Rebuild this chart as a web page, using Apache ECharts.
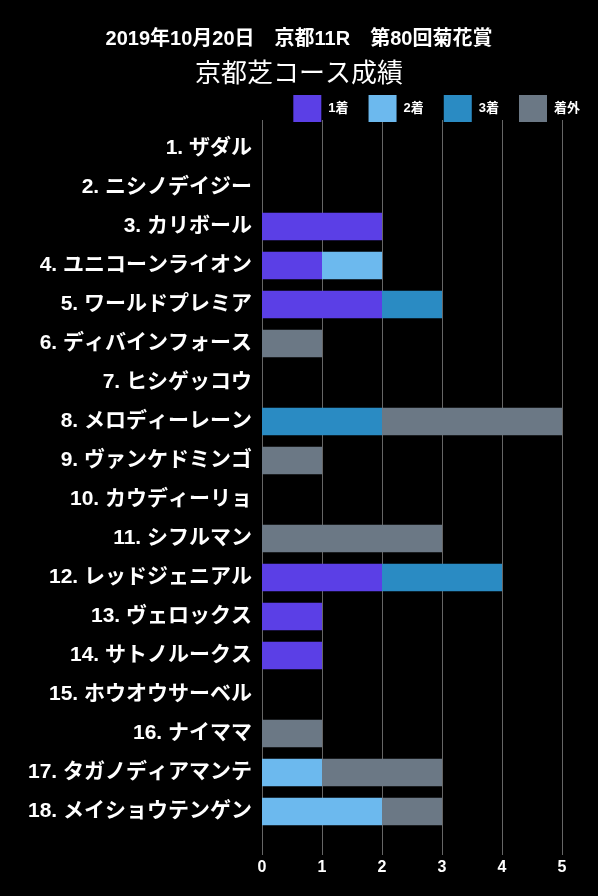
<!DOCTYPE html>
<html><head><meta charset="utf-8">
<script src="https://cdn.jsdelivr.net/npm/echarts@6/dist/echarts.min.js"></script>
<style>html,body{margin:0;padding:0;background:#000;}#c{width:598px;height:896px;}</style>
</head><body><div id="c"></div>
<script>
const horses = ['1. ザダル','2. ニシノデイジー','3. カリボール','4. ユニコーンライオン','5. ワールドプレミア','6. ディバインフォース','7. ヒシゲッコウ','8. メロディーレーン','9. ヴァンケドミンゴ','10. カウディーリョ','11. シフルマン','12. レッドジェニアル','13. ヴェロックス','14. サトノルークス','15. ホウオウサーベル','16. ナイママ','17. タガノディアマンテ','18. メイショウテンゲン'];
const first  = [0,0,2,1,2,0,0,0,0,0,0,2,1,1,0,0,0,0];
const second = [0,0,0,1,0,0,0,0,0,0,0,0,0,0,0,0,1,2];
const third  = [0,0,0,0,1,0,0,2,0,0,0,2,0,0,0,0,0,0];
const outside= [0,0,0,0,0,1,0,3,1,0,3,0,0,0,0,1,2,1];
const seriesNames = ['1着','2着','3着','着外'];
const colors = ['#5b3fe6','#6cb9ee','#2a8bc3','#6b7885'];
const xTicks = [0,1,2,3,4,5];

const font = '"Liberation Sans","Noto Sans CJK JP",sans-serif';
const chart = echarts.init(document.getElementById('c'));
const grid = {left:262, top:129, width:300, height:702};
chart.setOption({
  backgroundColor:'#000',
  animation:false,
  textStyle:{fontFamily:font},
  title:[
    {text:'2019年10月20日　京都11R　第80回菊花賞', left:'center', top:24, textStyle:{color:'#fff', fontSize:20, fontWeight:'bold', fontFamily:font}},
    {text:'京都芝コース成績', left:'center', top:57, textStyle:{color:'#fff', fontSize:26, fontWeight:'normal', fontFamily:font}}
  ],
  legend:{
    data:seriesNames, right:13, top:90, itemWidth:28, itemHeight:27, itemGap:20,
    textStyle:{color:'#fff', fontSize:13, fontWeight:'bold', fontFamily:font, padding:[0,0,0,2]},
    icon:'rect'
  },
  grid:grid,
  xAxis:[
    {type:'value', min:xTicks[0], max:xTicks[xTicks.length-1], interval:1, position:'bottom',
     axisLine:{show:false},
     axisTick:{show:true, length:24, lineStyle:{color:'#666'}},
     splitLine:{show:true, lineStyle:{color:'#666', width:1}},
     axisLabel:{color:'#fff', fontSize:16, fontWeight:'bold', margin:29, fontFamily:font}},
    {type:'value', min:xTicks[0], max:xTicks[xTicks.length-1], interval:1, position:'top',
     axisLine:{show:false},
     axisTick:{show:true, length:9, lineStyle:{color:'#666'}},
     splitLine:{show:false},
     axisLabel:{show:false}}
  ],
  yAxis:{type:'category', data:horses, inverse:true,
    axisLine:{show:false}, axisTick:{show:false},
    axisLabel:{color:'#fff', fontSize:21, fontWeight:'bold', margin:10, fontFamily:font}},
  series:[first,second,third,outside].map((d,i)=>({
    name:seriesNames[i], type:'bar', stack:'total', data:d,
    itemStyle:{color:colors[i]}, barCategoryGap:'30%'
  }))
});
</script></body></html>
